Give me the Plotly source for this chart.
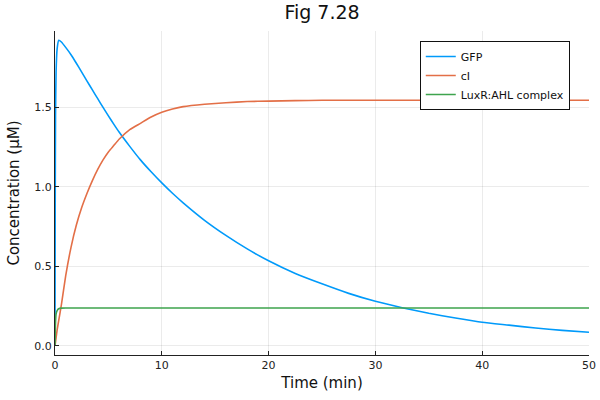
# Fig 7.28 - GFP / cI / LuxR:AHL response over time

import plotly.graph_objects as go

# Data
time_min = [0, 0.02, 0.05, 0.1, 0.2, 0.35, 0.6, 1.0, 1.5, 2.0, 2.5, 3.0, 3.5, 4.0,
            4.5, 5.0, 5.5, 6.0, 7.0, 8.0, 9.0, 10.0, 11.0, 12.0, 14.0, 16.0, 18.0,
            20.0, 22.5, 25.0, 27.5, 30.0, 32.5, 35.0, 37.5, 40.0, 42.5, 45.0, 47.5, 50.0]

gfp = [0.0, 0.85, 1.45, 1.72, 1.87, 1.923, 1.912, 1.878, 1.832, 1.778, 1.722, 1.666, 1.61, 1.555,
       1.50, 1.447, 1.395, 1.345, 1.255, 1.17, 1.095, 1.025, 0.96, 0.90, 0.79, 0.695, 0.61,
       0.535, 0.455, 0.39, 0.33, 0.28, 0.24, 0.205, 0.175, 0.148, 0.13, 0.112, 0.097, 0.085]

ci = [0.0, 0.01, 0.025, 0.05, 0.1, 0.16, 0.26, 0.44, 0.62, 0.76, 0.87, 0.96, 1.04, 1.11,
      1.17, 1.22, 1.26, 1.30, 1.36, 1.40, 1.44, 1.47, 1.49, 1.505, 1.52, 1.53, 1.537,
      1.54, 1.543, 1.545, 1.545, 1.545, 1.545, 1.545, 1.545, 1.545, 1.545, 1.545, 1.545, 1.545]

luxr_ahl = [0.0, 0.07, 0.15, 0.2, 0.222, 0.233, 0.237, 0.238, 0.238, 0.238, 0.238, 0.238, 0.238, 0.238,
            0.238, 0.238, 0.238, 0.238, 0.238, 0.238, 0.238, 0.238, 0.238, 0.238, 0.238, 0.238, 0.238,
            0.238, 0.238, 0.238, 0.238, 0.238, 0.238, 0.238, 0.238, 0.238, 0.238, 0.238, 0.238, 0.238]

series = [("GFP", gfp, "#009AFA"), ("cI", ci, "#E36F47"), ("LuxR:AHL complex", luxr_ahl, "#3EA44E")]

fig = go.Figure()
for name, vals, color in series:
    fig.add_trace(go.Scatter(x=time_min, y=vals, mode="lines", name=name,
                             line=dict(color=color, width=1.6, shape="spline", smoothing=0.5)))

axis_style = dict(showline=True, linecolor="#222", linewidth=1,
                  ticks="inside", ticklen=4, tickcolor="#222",
                  showgrid=True, gridcolor="rgba(0,0,0,0.08)", gridwidth=1,
                  zeroline=False, mirror=False, automargin=False,
                  tickfont=dict(size=11, color="#222"))

fig.update_layout(
    width=600, height=400,
    margin=dict(l=55, r=11, t=31, b=45),
    paper_bgcolor="white", plot_bgcolor="white",
    font=dict(family="DejaVu Sans", color="#111"),
    title=dict(text="Fig 7.28", x=0.5, xref="paper", xanchor="center",
               y=0.968, yanchor="middle", font=dict(size=19)),
    xaxis=dict(range=[0, 50], tickvals=[0, 10, 20, 30, 40, 50],
               title=dict(text="Time (min)", font=dict(size=15), standoff=6), **axis_style),
    yaxis=dict(range=[-0.0577, 1.981], tickvals=[0, 0.5, 1.0, 1.5], tickformat=".1f",
               title=dict(text="Concentration (μM)", font=dict(size=15), standoff=11), **axis_style),
    legend=dict(x=0.964, y=0.969, xanchor="right", yanchor="top",
                bgcolor="white", bordercolor="#111", borderwidth=1,
                font=dict(size=11), tracegroupgap=0, itemwidth=30),
    showlegend=True,
)

# drop the default page margin so the 600x400 figure sits at the window's corner
fig.write_html("out.html", config={"displayModeBar": False},
               post_script="document.body.style.margin = '0'; document.body.style.overflow = 'hidden';")
